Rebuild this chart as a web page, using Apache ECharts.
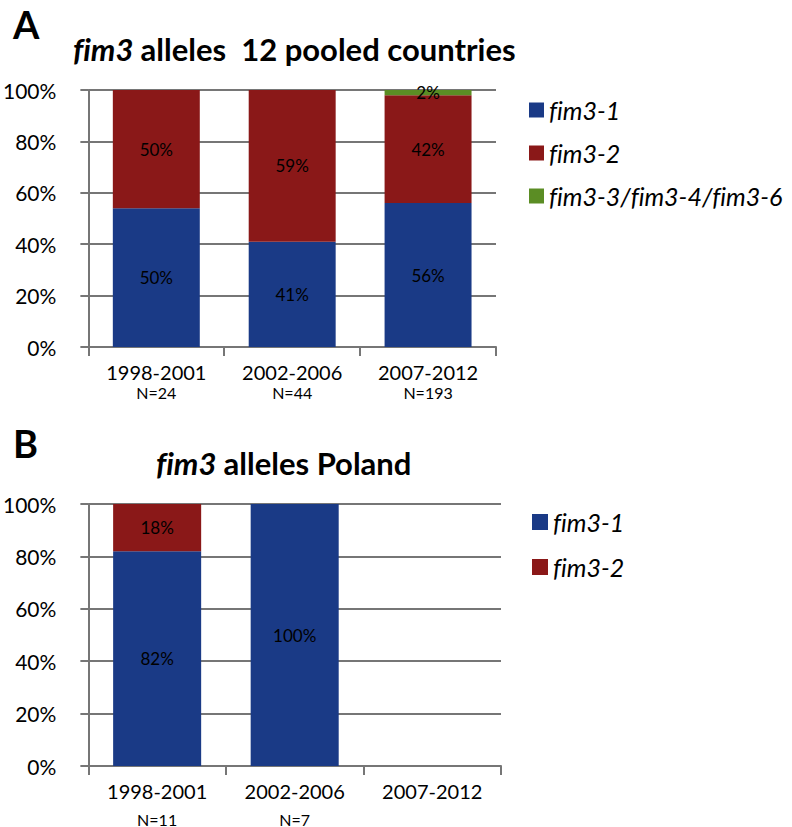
<!DOCTYPE html>
<html>
<head>
<meta charset="utf-8">
<script src="https://cdn.jsdelivr.net/npm/echarts@6/dist/echarts.min.js"></script>
<style>
html,body{margin:0;padding:0;background:#fff;}
#c{width:792px;height:827px;}
#c text{font-variant-ligatures:none;font-feature-settings:"liga" 0, "clig" 0;}
</style>
</head>
<body>
<div id="c"></div>
<script>
// Panel A: fim3 alleles, 12 pooled countries
var categoriesA = ['1998-2001', '2002-2006', '2007-2012'];
var nLabelsA = ['N=24', 'N=44', 'N=193'];
var fim31A = [54, 41, 56];
var fim32A = [46, 59, 42];
var fim3OtherA = [0, 0, 2];
var fim31LabelsA = ['50%', '41%', '56%'];
var fim32LabelsA = ['50%', '59%', '42%'];
var fim3OtherLabelsA = ['', '', '2%'];

// Panel B: fim3 alleles, Poland
var categoriesB = ['1998-2001', '2002-2006', '2007-2012'];
var nLabelsB = ['N=11', 'N=7', ''];
var fim31B = [82, 100, null];
var fim32B = [18, 0, null];
var fim31LabelsB = ['82%', '100%', ''];
var fim32LabelsB = ['18%', '', ''];

var yTicks = [0, 20, 40, 60, 80, 100];

var FONT = 'Lato, "Open Sans", sans-serif';
var LINE = '#767676';
var BLUE = '#1A3A86';
var RED = '#8A1818';
var GREEN = '#5B8D24';

function yAxisCfg(gi) {
  return {
    type: 'value', gridIndex: gi, min: yTicks[0], max: yTicks[yTicks.length - 1], interval: 20,
    axisLine: {show: true, lineStyle: {color: LINE, width: 2}},
    axisTick: {show: true, length: 8, lineStyle: {color: LINE, width: 2}},
    splitLine: {show: true, lineStyle: {color: LINE, width: 2}},
    axisLabel: {formatter: '{value}%', fontSize: 21, color: '#000', fontFamily: FONT, margin: 32}
  };
}

function xAxisCfg(gi, cats, ns, gap2) {
  return {
    type: 'category', gridIndex: gi, data: cats,
    axisLine: {show: true, lineStyle: {color: LINE, width: 2}},
    axisTick: {show: true, length: 9, interval: 0, lineStyle: {color: LINE, width: 2}},
    axisLabel: {
      interval: 0, margin: 15, color: '#000', fontFamily: FONT,
      formatter: function (v, i) {
        var n = ns[cats.indexOf(v)];
        return n ? '{a|' + v + '}\n{b|' + n + '}' : '{a|' + v + '}';
      },
      rich: {
        a: {fontSize: 20, lineHeight: 20, color: '#000', fontFamily: FONT},
        b: {fontSize: 16, lineHeight: gap2, color: '#000', fontFamily: FONT}
      }
    }
  };
}

function barSeries(name, gi, data, labels, color, stack) {
  return {
    name: name, type: 'bar', stack: stack, xAxisIndex: gi, yAxisIndex: gi,
    data: data, barWidth: '64%', itemStyle: {color: color},
    label: {
      show: true, position: 'inside', color: '#000', fontSize: 17, fontFamily: FONT,
      formatter: function (p) { return labels[p.dataIndex] || ''; }
    }
  };
}

var titleRich = {i: {fontStyle: 'italic', fontWeight: 'bold', fontSize: 31, fontFamily: FONT, color: '#000'}};

var option = {
  animation: false,
  backgroundColor: '#fff',
  title: [
    {text: 'A', left: 8, top: 0, textStyle: {fontSize: 38, fontWeight: 'bold', fontFamily: FONT, color: '#000'}},
    {text: '{i|fim3} alleles  12 pooled countries', left: 68, top: 28,
     textStyle: {fontSize: 31, fontWeight: 'bold', fontFamily: FONT, color: '#000', rich: titleRich}},
    {text: 'B', left: 8, top: 419, textStyle: {fontSize: 38, fontWeight: 'bold', fontFamily: FONT, color: '#000'}},
    {text: '{i|fim3} alleles Poland', left: 151, top: 442,
     textStyle: {fontSize: 31, fontWeight: 'bold', fontFamily: FONT, color: '#000', rich: titleRich}}
  ],
  legend: [
    {
      orient: 'vertical', left: 524, top: 92, icon: 'rect', itemWidth: 15, itemHeight: 15, itemGap: 17,
      data: ['fim3-1', 'fim3-2', 'fim3-3/fim3-4/fim3-6'],
      textStyle: {fontSize: 25, fontStyle: 'italic', fontFamily: FONT, color: '#000', lineHeight: 26}
    },
    {
      orient: 'vertical', left: 527, top: 504, icon: 'rect', itemWidth: 16, itemHeight: 16, itemGap: 19,
      data: ['fim3-1', 'fim3-2'],
      textStyle: {fontSize: 25, fontStyle: 'italic', fontFamily: FONT, color: '#000', lineHeight: 26}
    }
  ],
  grid: [
    {left: 88, top: 90, width: 408, height: 257},
    {left: 86, top: 504, width: 415, height: 265}
  ],
  xAxis: [xAxisCfg(0, categoriesA, nLabelsA, 20), xAxisCfg(1, categoriesB, nLabelsB, 36)],
  yAxis: [yAxisCfg(0), yAxisCfg(1)],
  series: [
    barSeries('fim3-1', 0, fim31A, fim31LabelsA, BLUE, 'A'),
    barSeries('fim3-2', 0, fim32A, fim32LabelsA, RED, 'A'),
    barSeries('fim3-3/fim3-4/fim3-6', 0, fim3OtherA, fim3OtherLabelsA, GREEN, 'A'),
    barSeries('fim3-1', 1, fim31B, fim31LabelsB, BLUE, 'B'),
    barSeries('fim3-2', 1, fim32B, fim32LabelsB, RED, 'B')
  ]
};

echarts.init(document.getElementById('c'), null, {renderer: 'svg'}).setOption(option);
</script>
</body>
</html>
